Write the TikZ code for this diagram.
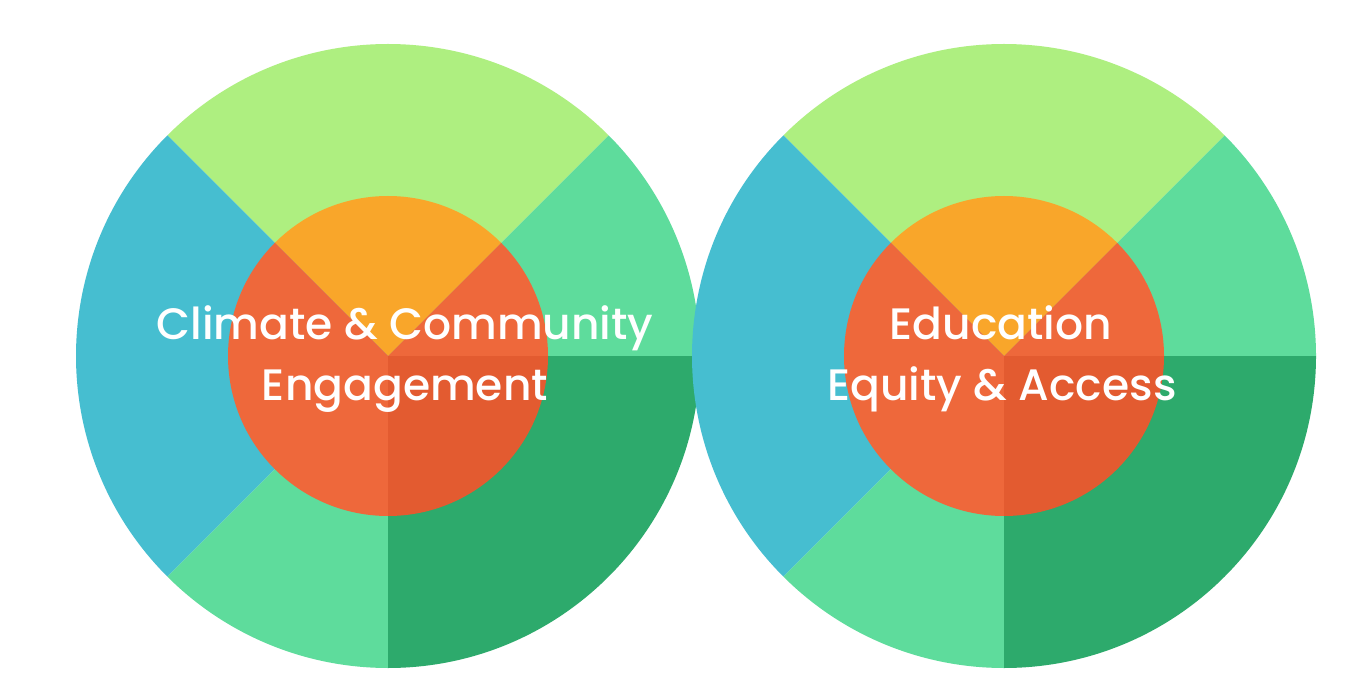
\documentclass[tikz,border=0pt]{standalone}
\usepackage{fontspec}
\setmainfont{Poppins}[UprightFont=* Medium]
\definecolor{lgreen}{HTML}{AEEF80}
\definecolor{mgreen}{HTML}{5EDC9C}
\definecolor{dgreen}{HTML}{2DAA6C}
\definecolor{wblue}{HTML}{46BED0}
\definecolor{worange}{HTML}{F9A62A}
\definecolor{wred}{HTML}{EE683B}
\definecolor{wdred}{HTML}{E35B30}
\begin{document}
\begin{tikzpicture}[x=1pt,y=1pt,
  label/.style={text=white,font=\fontsize{44}{50}\selectfont,inner sep=0pt,anchor=base}]
\useasboundingbox (0,0) rectangle (1362,697);
\fill[white] (0,0) rectangle (1362,697);
\foreach \cx/\nm in {388/L,1004/R}{
  \coordinate (c\nm) at (\cx,341);
  \fill[lgreen] (c\nm) -- ++(45:312) arc (45:135:312) -- cycle;
  \fill[mgreen] (c\nm) -- ++(0:312) arc (0:45:312) -- cycle;
  \fill[wblue] (c\nm) -- ++(135:312) arc (135:225:312) -- cycle;
  \fill[mgreen] (c\nm) -- ++(225:312) arc (225:270:312) -- cycle;
  \fill[dgreen] (c\nm) -- ++(270:312) arc (270:360:312) -- cycle;
  \fill[worange] (c\nm) -- ++(45:160) arc (45:135:160) -- cycle;
  \fill[wred] (c\nm) -- ++(135:160) arc (135:270:160) -- cycle;
  \fill[wred] (c\nm) -- ++(0:160) arc (0:45:160) -- cycle;
  \fill[wdred] (c\nm) -- ++(270:160) arc (270:360:160) -- cycle;
}
\node[label] (t1) at (405,357) {Climate \& Community};
\node[label] (t2) at (405,297) {Engagement};
\node[label] (t3) at (1001,357) {Education};
\node[label] (t4) at (1002,297) {Equity \& Access};
\end{tikzpicture}
\end{document}
